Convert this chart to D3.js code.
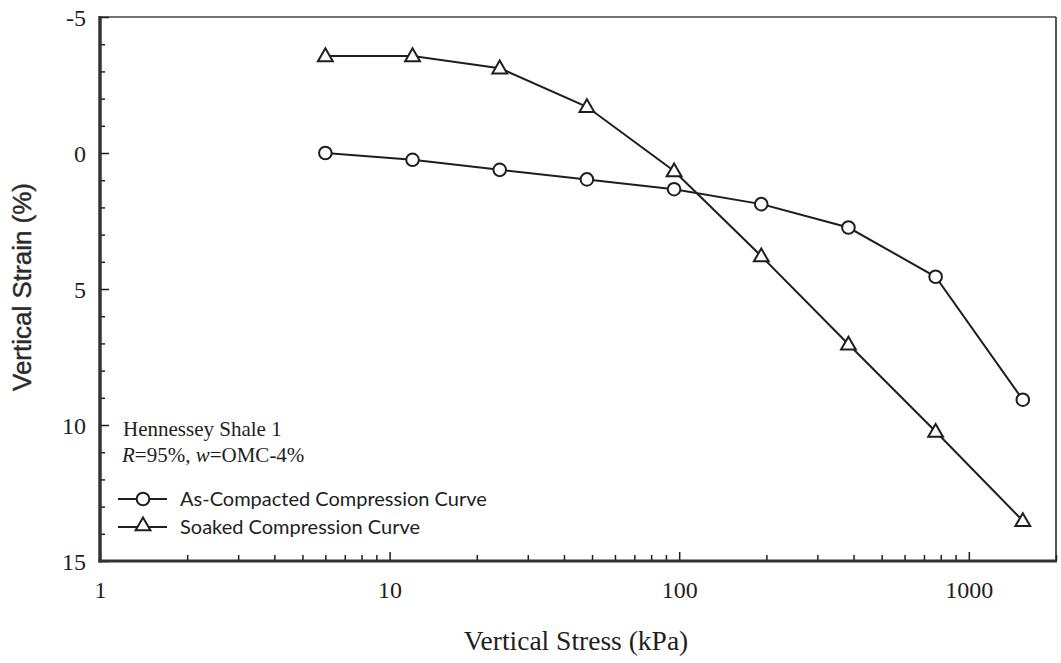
<!DOCTYPE html>
<html>
<head>
<meta charset="utf-8">
<script src="https://cdn.jsdelivr.net/npm/d3@7"></script>
<style>
  html, body { margin: 0; padding: 0; background: #fff; }
  svg { display: block; }
</style>
</head>
<body>
<svg id="chart" width="1061" height="663"></svg>
<script>
// Applied vertical stress steps (kPa)
const stress = [6, 12, 24, 48, 96, 192, 384, 768, 1536];
// Vertical strain (%) for each loading step
const asCompacted = [0.0, 0.25, 0.62, 0.97, 1.33, 1.88, 2.74, 4.55, 9.07];
const soaked = [-3.57, -3.57, -3.12, -1.70, 0.66, 3.79, 7.03, 10.24, 13.52];

const xTickValues = [1, 10, 100, 1000];
const yTickValues = [-5, 0, 5, 10, 15];

const legendTitle = "Hennessey Shale 1";
const seriesNames = ["As-Compacted Compression Curve", "Soaked Compression Curve"];

(function () {
const svg = d3.select("#chart");
const ink = "#1e1e1e";
const plotLeft = 100, plotRight = 1056, plotTop = 17, plotBottom = 561;
const serif = "'Liberation Serif', 'Times New Roman', serif";
const plain = d => String(d);   // hyphen-minus, as typeset

const x = d3.scaleLog().domain([1, 2000]).range([plotLeft, plotRight]);
const y = d3.scaleLinear().domain([-5, 15]).range([plotTop, plotBottom]);

// Frame: thin top/right edges, heavier left/bottom axes
svg.append("line").attr("x1", plotLeft).attr("x2", plotRight).attr("y1", plotTop).attr("y2", plotTop)
  .attr("stroke", "#444").attr("stroke-width", 1.6);
svg.append("line").attr("x1", plotRight).attr("x2", plotRight).attr("y1", plotTop).attr("y2", plotBottom)
  .attr("stroke", "#444").attr("stroke-width", 1.8);

// Minor y ticks every 1%
const yMinor = d3.range(-5, 16).filter(v => !yTickValues.includes(v));
svg.append("g").attr("transform", `translate(${plotLeft},0)`)
  .call(d3.axisLeft(y).tickValues(yMinor).tickSize(-5).tickFormat(""))
  .call(g => g.select(".domain").remove())
  .call(g => g.selectAll("line").attr("stroke", ink).attr("stroke-width", 1.5));

// Major y axis
const yAxis = svg.append("g").attr("transform", `translate(${plotLeft},0)`)
  .call(d3.axisLeft(y).tickValues(yTickValues).tickSize(-9).tickPadding(14).tickFormat(plain));
yAxis.select(".domain").remove();
yAxis.selectAll("line").attr("stroke", ink).attr("stroke-width", 1.5);
yAxis.selectAll("text")
  .attr("font-family", serif)
  .attr("font-size", 24).attr("fill", ink).attr("dy", "0.34em");

// Minor x ticks (2..9 within each decade)
const xMinor = [];
[1, 10, 100, 1000].forEach(d => { for (let k = 2; k <= 9; k++) if (d * k <= 2000) xMinor.push(d * k); });
svg.append("g").attr("transform", `translate(0,${plotBottom})`)
  .call(d3.axisBottom(x).tickValues(xMinor).tickSize(-6).tickFormat(""))
  .call(g => g.select(".domain").remove())
  .call(g => g.selectAll("line").attr("stroke", ink).attr("stroke-width", 1.5));

// Major x axis
const xAxis = svg.append("g").attr("transform", `translate(0,${plotBottom})`)
  .call(d3.axisBottom(x).tickValues(xTickValues).tickSize(-9).tickPadding(20).tickFormat(plain));
xAxis.select(".domain").remove();
xAxis.selectAll("line").attr("stroke", ink).attr("stroke-width", 1.5);
xAxis.selectAll("text")
  .attr("font-family", serif)
  .attr("font-size", 24).attr("fill", ink);

// Heavy left and bottom axis lines
svg.append("line").attr("x1", plotLeft).attr("x2", plotLeft).attr("y1", plotTop - 1).attr("y2", plotBottom + 1.5)
  .attr("stroke", "#333").attr("stroke-width", 3.5);
svg.append("line").attr("x1", plotLeft - 1.5).attr("x2", plotRight + 1).attr("y1", plotBottom).attr("y2", plotBottom)
  .attr("stroke", "#333").attr("stroke-width", 2.8);

// Axis titles
svg.append("text")
  .attr("x", 576).attr("y", 650)
  .attr("text-anchor", "middle")
  .attr("font-family", serif)
  .attr("font-size", 27.5).attr("fill", ink)
  .text("Vertical Stress (kPa)");

svg.append("text")
  .attr("transform", "translate(31,287) rotate(-90)")
  .attr("text-anchor", "middle")
  .attr("font-family", "'Liberation Sans', Arial, sans-serif")
  .attr("font-size", 26).attr("fill", "#2a2a2a")
  .attr("stroke", "#2a2a2a").attr("stroke-width", 0.4)
  .text("Vertical Strain (%)");

// Series
const line = d3.line().x(d => x(d[0])).y(d => y(d[1]));
const circleData = stress.map((s, i) => [s, asCompacted[i]]);
const triData = stress.map((s, i) => [s, soaked[i]]);

const triangle = d3.symbol().type(d3.symbolTriangle).size(95);

function drawSeries(data, marker) {
  svg.append("path").datum(data).attr("d", line)
    .attr("fill", "none").attr("stroke", ink).attr("stroke-width", 2);
  const g = svg.append("g");
  if (marker === "circle") {
    g.selectAll("circle").data(data).join("circle")
      .attr("cx", d => x(d[0])).attr("cy", d => y(d[1])).attr("r", 6.3)
      .attr("fill", "#fff").attr("stroke", ink).attr("stroke-width", 2);
  } else {
    g.selectAll("path").data(data).join("path")
      .attr("d", triangle)
      .attr("transform", d => `translate(${x(d[0])},${y(d[1]) + 1})`)
      .attr("fill", "#fff").attr("stroke", ink).attr("stroke-width", 2);
  }
}
drawSeries(triData, "triangle");
drawSeries(circleData, "circle");

// Specimen description
svg.append("text").attr("x", 123).attr("y", 436)
  .attr("font-family", serif).attr("font-size", 21).attr("fill", ink)
  .text(legendTitle);
const desc = svg.append("text").attr("x", 122).attr("y", 462)
  .attr("font-family", serif).attr("font-size", 21).attr("fill", ink);
desc.append("tspan").attr("font-style", "italic").text("R");
desc.append("tspan").text("=95%, ");
desc.append("tspan").attr("font-style", "italic").text("w");
desc.append("tspan").text("=OMC-4%");

// Legend
const legendRows = [
  { name: seriesNames[0], marker: "circle", y: 499 },
  { name: seriesNames[1], marker: "triangle", y: 527 }
];
legendRows.forEach(r => {
  svg.append("line").attr("x1", 118).attr("x2", 167).attr("y1", r.y).attr("y2", r.y)
    .attr("stroke", ink).attr("stroke-width", 2);
  if (r.marker === "circle") {
    svg.append("circle").attr("cx", 143).attr("cy", r.y).attr("r", 6.3)
      .attr("fill", "#fff").attr("stroke", ink).attr("stroke-width", 2);
  } else {
    svg.append("path").attr("d", triangle).attr("transform", `translate(143,${r.y - 1})`)
      .attr("fill", "#fff").attr("stroke", ink).attr("stroke-width", 2);
  }
  svg.append("text").attr("x", 180).attr("y", r.y + 7)
    .attr("font-family", "Lato, 'Open Sans', sans-serif").attr("font-size", 20).attr("fill", ink)
    .text(r.name);
});
})();
</script>
</body>
</html>
